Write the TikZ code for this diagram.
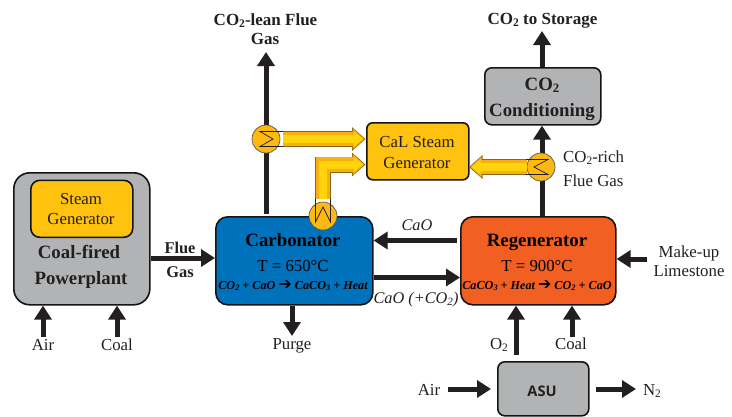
\documentclass[tikz,border=0pt]{standalone}
\usepackage{fontspec}
\usepackage{graphicx}
\setmainfont{Liberation Serif}
\newfontfamily\sansb{Open Sans}
\newfontfamily\dvs{DejaVu Sans}
\usetikzlibrary{arrows.meta,backgrounds,calc}
\definecolor{ink}{HTML}{231F20}
\definecolor{gbase}{HTML}{B1B3B4}
\definecolor{ybase}{HTML}{FFC20E}
\definecolor{yhigh}{HTML}{FFD40A}
\definecolor{ymid}{HTML}{F7B00F}
\definecolor{bbase}{HTML}{0072BC}
\definecolor{obase}{HTML}{F15F22}
\definecolor{hxc}{HTML}{FDB913}
\pgfdeclareverticalshading{bevgray}{100bp}{color(0bp)=(gbase!60!black); color(4bp)=(gbase); color(95bp)=(gbase); color(100bp)=(white!60!gbase)}
\pgfdeclareverticalshading{bevyel}{100bp}{color(0bp)=(ybase!70!black); color(5bp)=(ybase); color(94bp)=(ybase); color(100bp)=(white!40!ybase)}
\pgfdeclareverticalshading{bevblue}{100bp}{color(0bp)=(bbase!75!black); color(3bp)=(bbase); color(96bp)=(bbase); color(100bp)=(white!35!bbase)}
\pgfdeclareverticalshading{bevor}{100bp}{color(0bp)=(obase!80!black); color(3bp)=(obase); color(100bp)=(obase)}
\newcommand{\sbs}[1]{\raisebox{-.28ex}{\scalebox{.68}{#1}}}
\newcommand{\fs}[1]{\fontsize{#1}{#1}\selectfont}
\newcommand{\rarr}{\scalebox{1.3}{\dvs\upshape\bfseries\char"2794}}
\tikzset{
 boxbase/.style={draw=black!92,line width=1.6,rounded corners=9,inner sep=0,anchor=north west,shade},
 lbl/.style={anchor=base,inner sep=0,text=ink,font=\fs{16.8}},
 lblb/.style={lbl,font=\fs{17}\bfseries},
 ttl/.style={lbl,font=\fs{18.8}\bfseries},
 rxn/.style={lbl,font=\fs{12.2}\bfseries\itshape},
 flow/.style={ink,line width=5,-{Triangle[length=14,width=17]}},
 hxn/.style={circle,draw=ink!75,line width=.7,fill=hxc,minimum size=28,inner sep=0},
 hxs/.style={ink,line width=.7,line join=miter},
 yout/.style={draw=ink!55!ybase,line width=16,shorten <=3,-{Triangle[length=13.5,width=23]}},
 yin/.style={draw=ymid,line width=14.4,shorten <=3,shorten >=1.2,-{Triangle[length=11.5,width=20]}},
 yhi/.style={draw=yhigh,line width=8,shorten <=3,shorten >=2.5,-{Triangle[length=9,width=14]}},
}
\begin{document}
\begin{tikzpicture}[x=1pt,y=-1pt]
\useasboundingbox (0,0) rectangle (732,416);
% boxes
\node[boxbase,shading=bevgray,rounded corners=16,minimum width=136,minimum height=132] (pp) at (13,172) {};
\node[boxbase,shading=bevyel,minimum width=102,minimum height=57] (sg) at (30,179.5) {};
\node[boxbase,shading=bevyel,rounded corners=6,minimum width=102,minimum height=57] (cal) at (366,122) {};
\node[boxbase,shading=bevblue,rounded corners=12,minimum width=157,minimum height=88] (carb) at (215,216) {};
\node[boxbase,shading=bevor,rounded corners=12,minimum width=155,minimum height=88] (regen) at (460,216) {};
\node[boxbase,shading=bevgray,rounded corners=7,minimum width=116,minimum height=57] (cond) at (484,67) {};
\node[boxbase,shading=bevgray,rounded corners=7,minimum width=91,minimum height=54] (asu) at (497,361) {};
% heat exchangers
\node[hxn] (hxa) at (266,139) {};
\node[hxn] (hxb) at (541,167) {};
\node[hxn] (hxc) at (323,216) {};
% free ends
\coordinate (leantop) at (266,52);
\coordinate (stortop) at (542,31);
\coordinate (fluea) at (151,258);
\coordinate (caoa) at (457,240.5);
\coordinate (caob) at (374,277.5);
\coordinate (pur) at (292,336);
\coordinate (aira) at (43,337);
\coordinate (coala) at (117,337);
\coordinate (oxa) at (516,355);
\coordinate (coalb) at (572,337);
\coordinate (airb) at (448,389);
\coordinate (ntwo) at (636,389);
\coordinate (mk) at (647,259);
\coordinate (ya) at (365.5,139);
\coordinate (yb) at (365.5,164.5);
\coordinate (yc) at (469,167);
% process connectors
\begin{pgfonlayer}{background}
\draw[flow] (carb.north -| leantop) ++(0,-2) -- (leantop);
\draw[flow] (regen.north -| stortop) -- (cond.south -| stortop);
\end{pgfonlayer}
\draw[flow] (cond.north -| stortop) -- (stortop);
\draw[flow] (fluea) -- (carb.west |- fluea);
\draw[flow] (caoa) -- (carb.east |- caoa);
\draw[flow] (caob) -- (regen.west |- caob);
\draw[flow] (carb.south -| pur) -- (pur);
\draw[flow] (aira) -- (pp.south -| aira);
\draw[flow] (coala) -- (pp.south -| coala);
\draw[flow] (oxa) -- (regen.south -| oxa);
\draw[flow] (coalb) -- (regen.south -| coalb);
\draw[flow] (airb) -- ([xshift=-6]asu.west |- airb);
\draw[flow,shorten <=6] (asu.east |- ntwo) -- (ntwo);
\draw[flow] (mk) -- (regen.east |- mk);
% yellow arrows
\draw[yout] (hxa.east) -- (ya);
\draw[yin] (hxa.east) -- (ya);
\draw[yhi] (hxa.east) -- (ya);
\draw[yout] (hxc.north) |- (yb);
\draw[yin] (hxc.north) |- (yb);
\draw[yhi] (hxc.north) |- (yb);
\draw[yout,shorten <=0] (hxb.west) -- (yc);
\draw[yin,shorten <=0] (hxb.west) -- (yc);
\draw[yhi,shorten <=0] (hxb.west) -- (yc);
% exchanger symbols
\draw[hxs] ([shift={(17,-7.5)}]hxa.center) -- ([shift={(-6,-7.5)}]hxa.center) -- ([shift={(7,0)}]hxa.center) -- ([shift={(-6,7.5)}]hxa.center) -- ([shift={(17,7.5)}]hxa.center);
\draw[hxs] ([shift={(-15,-7.5)}]hxb.center) -- ([shift={(7,-7.5)}]hxb.center) -- ([shift={(-7,0)}]hxb.center) -- ([shift={(7,7.5)}]hxb.center) -- ([shift={(-15,7.5)}]hxb.center);
\draw[hxs] ([shift={(-7.5,-17)}]hxc.center) -- ([shift={(-7.5,6)}]hxc.center) -- ([shift={(0,-9)}]hxc.center) -- ([shift={(7.5,6)}]hxc.center) -- ([shift={(7.5,-17)}]hxc.center);
% texts
\node[lblb] (t1) at (265.5,25) {CO\sbs{2}-lean Flue};
\node[lblb] (t2) at (265,44) {Gas};
\node[lblb] (t3) at (542.5,24) {CO\sbs{2} to Storage};
\node[lbl] (t4) at (81,204) {Steam};
\node[lbl] (t5) at (81,224) {Generator};
\node[ttl] (t6) at (79,258) {Coal-fired};
\node[ttl] (t7) at (81,284) {Powerplant};
\node[lblb,font=\fs{16.4}\bfseries] (t8) at (180,253) {Flue};
\node[lblb,font=\fs{16.4}\bfseries] (t9) at (180,277) {Gas};
\node[lbl] (t10) at (43,350) {Air};
\node[lbl] (t11) at (117,350) {Coal};
\node[lbl] (t12) at (292,349) {Purge};
\node[lbl] (t13) at (417,147) {CaL Steam};
\node[lbl] (t14) at (417,168) {Generator};
\node[ttl] (t15) at (542,90) {CO\sbs{2}};
\node[ttl] (t16) at (542,116) {Conditioning};
\node[lbl,anchor=base west] (t17) at (563,162) {CO\sbs{2}-rich};
\node[lbl,anchor=base west] (t18) at (563,186) {Flue Gas};
\node[ttl,text=black] (t19) at (293,246) {Carbonator};
\node[lbl,text=black] (t20) at (293,271) {T = 650°C};
\node[rxn,text=black] (t21) at (293,289) {CO\sbs{2} + CaO \rarr{} CaCO\sbs{3} + Heat};
\node[ttl,text=black] (t22) at (537,246) {Regenerator};
\node[lbl,text=black] (t23) at (537,271) {T = 900°C};
\node[rxn,text=black] (t24) at (537,289) {CaCO\sbs{3} + Heat \rarr{} CO\sbs{2} + CaO};
\node[lbl,font=\fs{16.3}\itshape] (t25) at (417,230) {CaO};
\node[lbl,font=\fs{16.3}\itshape] (t26) at (416,303) {CaO (+CO\sbs{2})};
\node[lbl] (t27) at (689,257) {Make-up};
\node[lbl] (t28) at (689,276) {Limestone};
\node[lbl] (t29) at (499,349) {O\sbs{2}};
\node[lbl] (t30) at (571,349) {Coal};
\node[lbl] (t31) at (429,395) {Air};
\node[lbl] (t32) at (652,395) {N\sbs{2}};
\node[lbl,font=\fs{14.6}\sansb\bfseries] (t33) at (542,396) {ASU};
\end{tikzpicture}
\end{document}
